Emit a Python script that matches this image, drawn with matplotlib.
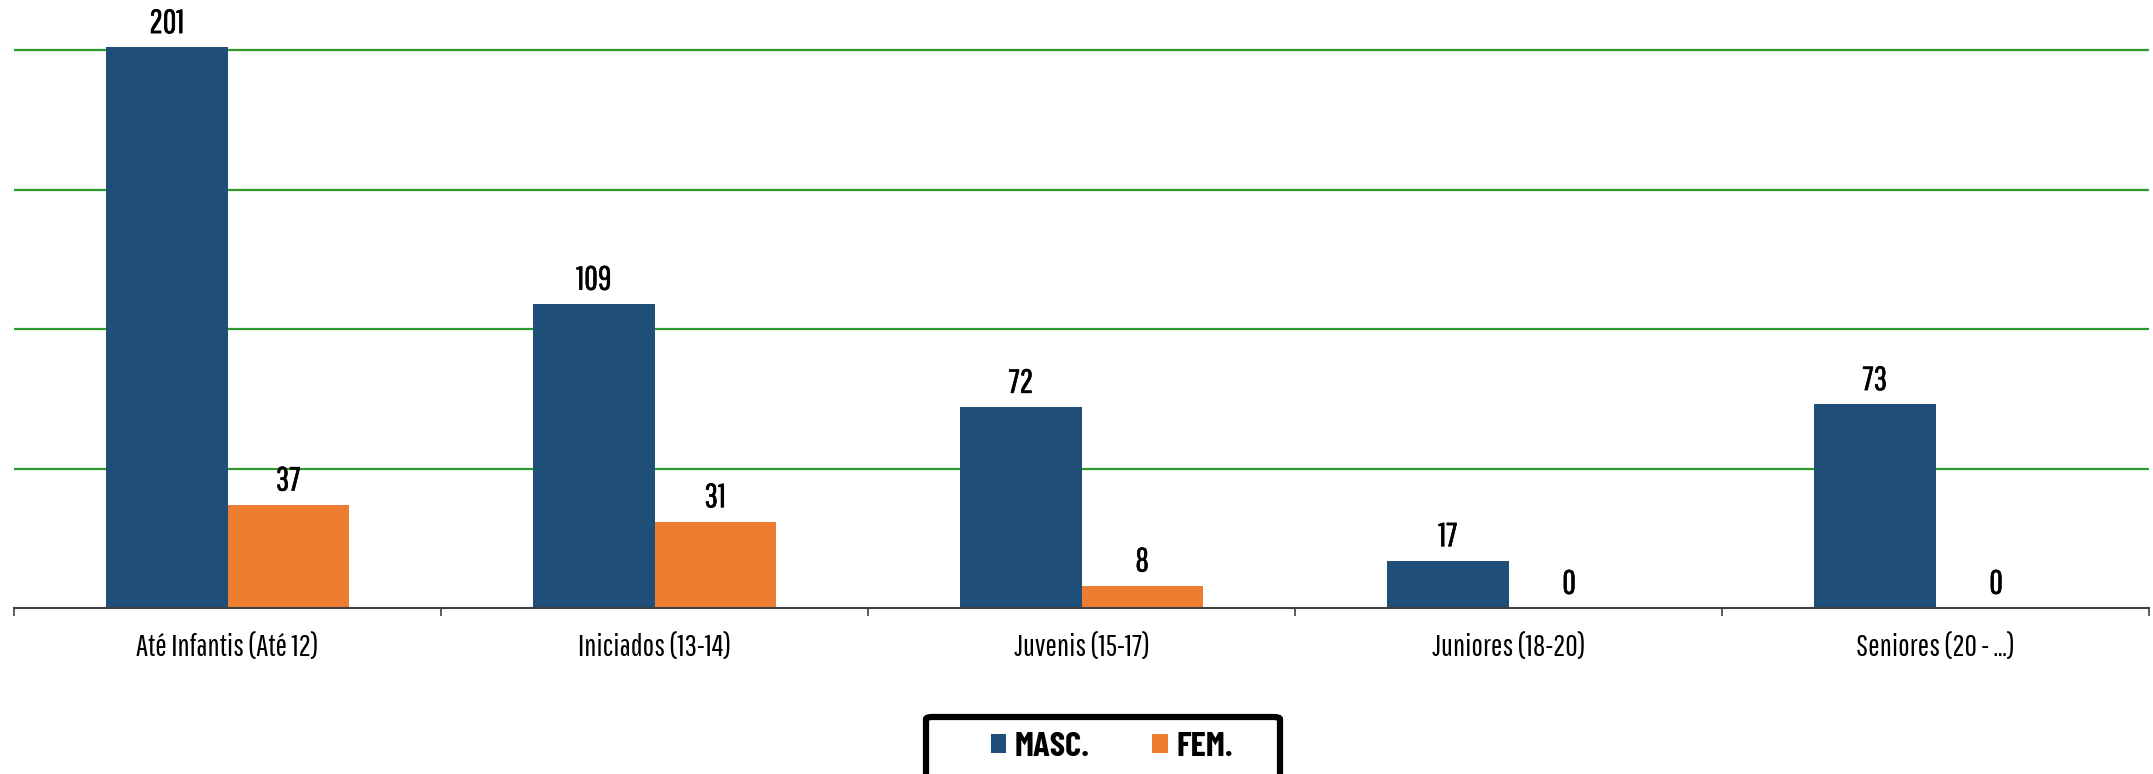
import numpy as np
import matplotlib
matplotlib.use('Agg')
import matplotlib.pyplot as plt
import matplotlib.patheffects as pe
from matplotlib.patches import FancyBboxPatch

categories = ['Até Infantis (Até 12)', 'Iniciados (13-14)', 'Juvenis (15-17)',
              'Juniores (18-20)', 'Seniores (20 - \u2026)']
masc = [201, 109, 72, 17, 73]
fem = [37, 31, 8, 0, 0]
series_names = ['MASC.', 'FEM.']

# condensed faces, closest installed to the original chart font
LABEL_FONT = ['Pathway Gothic One', 'DejaVu Sans']
LEGEND_FONT = ['Barlow Condensed', 'DejaVu Sans']
plt.rcParams['font.family'] = LABEL_FONT

W, H = 2153, 774
fig = plt.figure(figsize=(W / 100, H / 100), dpi=100)
ax = fig.add_axes([14 / W, 1 - 608 / H, (2149 - 14) / W, 608 / H])

x = np.arange(len(categories))
width = 0.284
b1 = ax.bar(x - width / 2, masc, width, color='#1F4E79', label=series_names[0], zorder=3)
b2 = ax.bar(x + width / 2, fem, width, color='#ED7D31', label=series_names[1], zorder=3)

for rects in (b1, b2):
    for rect in rects:
        h = rect.get_height()
        ax.annotate('{}'.format(int(h)),
                    xy=(rect.get_x() + rect.get_width() / 2, h),
                    xytext=(0, 6), textcoords='offset points',
                    ha='center', va='bottom', fontsize=24, color='black',
                    path_effects=[pe.withStroke(linewidth=0.45, foreground='black')])

ax.set_xlim(-0.5, len(categories) - 0.5)
ax.set_ylim(0, 218)
ax.set_yticks([50, 100, 150, 200])
ax.yaxis.grid(True, color='#2E9A2E', linewidth=1.6, zorder=0)
ax.tick_params(axis='y', left=False, labelleft=False)

ax.set_xticks(x)
ax.set_xticklabels(categories, fontsize=22)
ax.set_xticks(np.arange(len(categories) + 1) - 0.5, minor=True)
ax.tick_params(axis='x', which='major', length=0, pad=18)
ax.tick_params(axis='x', which='minor', length=6, width=1.2, color='#404040', direction='out')

for side in ['top', 'left', 'right']:
    ax.spines[side].set_visible(False)
ax.spines['bottom'].set_color('#404040')
ax.spines['bottom'].set_linewidth(1.5)
ax.spines['bottom'].set_zorder(4)

# legend box, drawn by hand so its padding can match
box = FancyBboxPatch((926 / W, 1 - 779 / H), (1280 - 926) / W, 62 / H,
                     boxstyle='round,pad=0,rounding_size=0.003',
                     transform=fig.transFigure, facecolor='white',
                     edgecolor='black', linewidth=4.5, clip_on=False)
fig.patches.append(box)
fig.legend(handles=[b1, b2], labels=series_names, loc='center',
           bbox_to_anchor=(1112 / W, 1 - 747 / H), ncol=2, frameon=False,
           prop={'family': LEGEND_FONT, 'weight': 'bold', 'size': 25},
           handlelength=0.45, handleheight=0.45, handletextpad=0.25,
           columnspacing=1.8)

fig.savefig('out.png', dpi=100)
